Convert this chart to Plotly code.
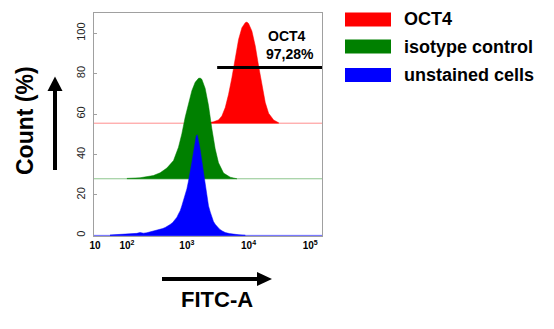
import numpy as np
import plotly.graph_objects as go

# ---------------- data (FITC-A intensity, count %) ----------------
red_x = [2245, 2705, 3260, 3696, 4190, 4745, 5370, 6085, 6890, 7800, 8835, 9400,
         10000, 11330, 12850, 14550, 16480, 18660, 21140, 25480, 30700]
red_y = [0.2, 0.7, 1.6, 3.6, 7.7, 14.3, 22.5, 32.4, 41.4, 47.2, 49.7, 50.0,
         49.3, 45.6, 38.2, 28.3, 18.4, 10.2, 4.9, 1.6, 0.2]

green_x = [100, 170, 284, 368, 473, 607, 731, 828, 938, 1063, 1205, 1364, 1545,
           1644, 1750, 1983, 2245, 2543, 2880, 3260, 3936, 5050, 6470]
green_y = [0.2, 0.5, 1.6, 3.0, 5.3, 9.0, 15.6, 22.2, 30.4, 37.8, 43.6, 47.7, 49.7,
           49.8, 49.2, 44.7, 36.2, 24.7, 14.8, 7.9, 2.8, 0.8, 0.2]

blue_x = [44, 60, 86, 105, 130, 150, 170, 195, 221, 250, 284, 325, 368, 405, 444,
          490, 535, 590, 645, 690, 731, 780, 828, 880, 938, 1000, 1063, 1110, 1159,
          1205, 1250, 1300, 1347, 1380, 1416, 1470, 1545, 1600, 1644, 1720, 1794,
          1880, 1983, 2100, 2245, 2400, 2543, 2700, 2880, 3100, 3390, 3750, 4190,
          4900, 5715, 7000, 8835]
blue_y = [0.2, 0.3, 0.4, 0.6, 0.9, 1.0, 1.4, 1.1, 1.3, 1.7, 1.9, 2.4, 2.7, 3.4, 3.9,
          4.5, 5.4, 6.4, 7.9, 9.0, 10.6, 12.2, 14.6, 17.0, 20.4, 23.0, 26.9, 29.5, 32.8,
          36.0, 39.2, 42.5, 45.0, 47.3, 49.0, 49.8, 47.3, 44.5, 42.3, 38.0, 34.0,
          29.5, 24.5, 19.8, 14.6, 11.5, 8.9, 6.9, 5.5, 4.2, 3.1, 2.2, 1.4,
          0.9, 0.5, 0.3, 0.1]

series_names = ["OCT4", "isotype control", "unstained cells"]
series_offsets = [55.5, 28.0, 0.0]          # overlay offsets (count %)

gate_range = [3100, 155000]                   # FITC-A
gate_level = 83.0                             # count %
gate_labels = ["OCT4", "97,28%"]

x_tick_values = [10, 100, 1000, 10000, 100000]
x_tick_text = ["<b>10</b>", "<b>10<sup>2</sup></b>", "<b>10<sup>3</sup></b>",
               "<b>10<sup>4</sup></b>", "<b>10<sup>5</sup></b>"]
y_tick_values = [0, 20, 40, 60, 80, 100]

X_LIMITS = [8, 155000]
Y_LIMITS = [-0.3, 110]

# ---------------- styles ----------------
colors = ["#ff0000", "#008000", "#0000ff"]
base_colors = ["rgba(255,0,0,0.45)", "rgba(0,128,0,0.45)", "rgba(0,0,255,0.6)"]
FONT = "Liberation Sans, Arial, sans-serif"

C = 27.0
def fwd(v):
    """biexponential-like (asinh) display transform used by the cytometer axis"""
    return np.arcsinh(np.asarray(v, dtype=float) / (2 * C)) / np.log(10)

xr = [float(fwd(X_LIMITS[0])), float(fwd(X_LIMITS[1]))]

fig = go.Figure()

data = [(red_x, red_y), (green_x, green_y), (blue_x, blue_y)]

# baselines first
for i, off in enumerate(series_offsets):
    fig.add_trace(go.Scatter(x=xr, y=[off, off], mode="lines",
                             line=dict(color=base_colors[i], width=1),
                             hoverinfo="skip", showlegend=False))

for i, (xs, ys) in enumerate(data):
    off = series_offsets[i]
    tx = fwd(xs)
    px = np.concatenate([tx, tx[::-1]])
    py = np.concatenate([np.asarray(ys) + off, np.full(len(ys), off)])
    fig.add_trace(go.Scatter(x=px, y=py, mode="lines", fill="toself",
                             fillcolor=colors[i],
                             line=dict(color=colors[i], width=0.5),
                             name=series_names[i], showlegend=False))

# gate
fig.add_shape(type="line", xref="x", yref="y",
              x0=float(fwd(gate_range[0])), x1=float(fwd(gate_range[1])),
              y0=gate_level, y1=gate_level, line=dict(color="black", width=3))
fig.add_annotation(x=float(fwd(42000)), y=98.7, xref="x", yref="y",
                   xanchor="center", yanchor="middle",
                   text="<b>%s</b>" % gate_labels[0], showarrow=False,
                   font=dict(family=FONT, size=14, color="black"))
fig.add_annotation(x=float(fwd(47500)), y=89.8, xref="x", yref="y",
                   xanchor="center", yanchor="middle",
                   text="<b>%s</b>" % gate_labels[1], showarrow=False,
                   font=dict(family=FONT, size=14, color="black"))

# ---------------- layout ----------------
W, H = 554, 329
L, R, T, B = 94, 232, 13, 93
pw, ph = W - L - R, H - T - B

def paper_x(px):
    return (px - L) / pw

def paper_y(py):
    return (H - B - py) / ph

# legend (manual swatches)
leg_rows = [19.5, 46.5, 75.0]
for i, name in enumerate(series_names):
    yc = leg_rows[i]
    fig.add_shape(type="rect", xref="paper", yref="paper",
                  x0=paper_x(345), x1=paper_x(391),
                  y0=paper_y(yc + 7), y1=paper_y(yc - 7),
                  fillcolor=colors[i], line=dict(width=0))
    fig.add_annotation(x=paper_x(402), y=paper_y(yc), xref="paper", yref="paper",
                       xanchor="left", yanchor="middle", showarrow=False,
                       text="<b>%s</b>" % name,
                       font=dict(family=FONT, size=18, color="black"))

# axis titles with arrows
fig.add_annotation(x=paper_x(25), y=paper_y(121), xref="paper", yref="paper",
                   xanchor="center", yanchor="middle",
                   text="<b>Count (%)</b>", textangle=-90, showarrow=False,
                   font=dict(family=FONT, size=23, color="black"))
fig.add_annotation(x=paper_x(217), y=paper_y(299), xref="paper", yref="paper",
                   xanchor="center", yanchor="middle",
                   text="<b>FITC-A</b>", showarrow=False,
                   font=dict(family=FONT, size=22, color="black"))

# vertical arrow
fig.add_shape(type="line", xref="paper", yref="paper",
              x0=paper_x(55), x1=paper_x(55), y0=paper_y(170), y1=paper_y(88),
              line=dict(color="black", width=4))
fig.add_shape(type="path", xref="paper", yref="paper",
              path="M %f %f L %f %f L %f %f Z" % (paper_x(47.5), paper_y(91),
                                                  paper_x(62.5), paper_y(91),
                                                  paper_x(55), paper_y(76.5)),
              fillcolor="black", line=dict(width=0))
# horizontal arrow
fig.add_shape(type="line", xref="paper", yref="paper",
              x0=paper_x(162), x1=paper_x(259), y0=paper_y(279), y1=paper_y(279),
              line=dict(color="black", width=4))
fig.add_shape(type="path", xref="paper", yref="paper",
              path="M %f %f L %f %f L %f %f Z" % (paper_x(257), paper_y(272),
                                                  paper_x(257), paper_y(286),
                                                  paper_x(272), paper_y(279)),
              fillcolor="black", line=dict(width=0))

fig.update_layout(
    width=W, height=H,
    margin=dict(l=L, r=R, t=T, b=B, pad=0),
    paper_bgcolor="white", plot_bgcolor="white",
    showlegend=False,
    font=dict(family=FONT, color="black"),
    xaxis=dict(range=xr, tickvals=[float(v) for v in fwd(x_tick_values)],
               ticktext=x_tick_text, showgrid=False, zeroline=False,
               showline=True, mirror=True, linecolor="#a0a0a0", linewidth=1,
               ticks="", tickfont=dict(family=FONT, size=10, color="black")),
    yaxis=dict(range=Y_LIMITS, tickvals=y_tick_values, tickangle=-90,
               showgrid=False, zeroline=False,
               showline=True, mirror=True, linecolor="#a0a0a0", linewidth=1,
               ticks="inside", ticklen=3, tickcolor="#a0a0a0",
               ticklabelstandoff=4,
               tickfont=dict(family=FONT, size=11, color="#222")),
)

fig.write_html("out.html")
